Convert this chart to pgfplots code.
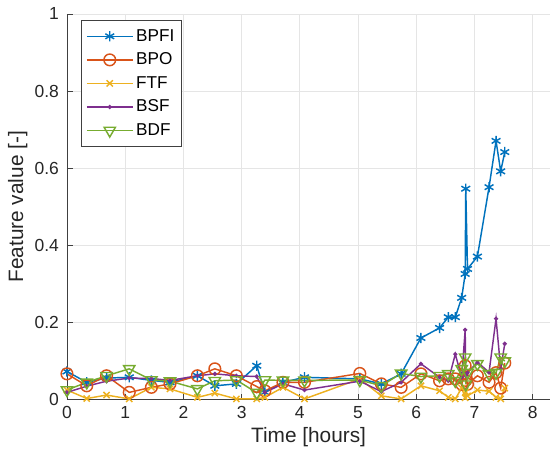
\documentclass[border=0pt]{standalone}
\usepackage{fontspec}
\setmainfont{Liberation Sans}
\usepackage{pgfplots}
\pgfplotsset{compat=1.18}
\usepackage{pgfplotstable}

\definecolor{mblue}{rgb}{0,0.447,0.741}
\definecolor{morange}{rgb}{0.85,0.325,0.098}
\definecolor{myellow}{rgb}{0.929,0.694,0.125}
\definecolor{mpurple}{rgb}{0.494,0.184,0.556}
\definecolor{mgreen}{rgb}{0.466,0.674,0.188}

% columns: time, BPFI, BPO, FTF, BSF, BDF
\pgfplotstableread{
t    bpfi   bpo    ftf    bsf    bdf
0.00 0.073  0.067  0.025  0.019  0.025
0.34 0.045  0.036  0.003  0.035  0.045
0.68 0.056  0.062  0.012  0.048  0.062
1.07 0.058  0.019  0.002  0.056  0.080
1.45 0.050  0.032  0.032  0.055  0.051
1.77 0.045  0.041  0.028  0.050  0.048
2.24 0.062  0.062  0.006  0.062  0.028
2.54 0.036  0.080  0.017  0.067  0.049
2.91 0.041  0.062  0.002  0.062  0.051
3.26 0.088  0.034  0.002  0.060  0.018
3.40 0.019  0.023  0.006  0.019  0.051
3.71 0.045  0.045  0.032  0.041  0.050
4.08 0.058  0.045  0.002  0.025  0.050
5.03 0.054  0.068  0.054  0.048  0.051
5.40 0.041  0.041  0.010  0.021  0.036
5.74 0.067  0.032  0.002  0.045  0.068
6.08 0.160  0.067  0.036  0.093  0.060
6.40 0.186  0.049  0.023  0.058  0.062
6.55 0.214  0.054  0.006  0.049  0.067
6.67 0.214  0.054  0.002  0.118  0.049
6.78 0.264  0.040  0.030  0.058  0.080
6.84 0.326  0.088  0.005  0.181  0.110
6.85 0.547  0.050  0.020  0.062  0.040
6.88 0.339  0.040  0.010  0.070  0.070
7.05 0.371  0.062  0.025  0.097  0.093
7.25 0.551  0.045  0.022  0.071  0.067
7.37 0.671  0.070  0.006  0.210  0.070
7.45 0.592  0.030  0.002  0.080  0.110
7.52 0.642  0.095  0.030  0.145  0.100
}\feat

\begin{document}
\begin{tikzpicture}
\begin{axis}[
    name=ax,
    scale only axis,
    width=332pt, height=265pt,
    xmin=0, xmax=8.3, ymin=0, ymax=1,
    xtick={0,1,...,8},
    ytick={0,0.2,0.4,0.6,0.8,1},
    yticklabels={0,0.2,0.4,0.6,0.8,1},
    axis x line*=bottom, axis y line*=left,
    tick align=inside,
    major tick length=4pt,
    grid=major,
    major grid style={gray!20, line width=0.6pt},
    axis line style={black!75, line width=0.6pt},
    tick style={black!75, line width=0.6pt},
    ticklabel style={font=\fontsize{12}{14}\selectfont, text=black!85},
    yticklabel style={xshift=-2pt},
    xticklabel style={yshift=-1pt},
    /pgf/number format/assume math mode=true,
    xlabel={Time [hours]},
    ylabel={Feature value [-]},
    label style={font=\fontsize{14.3}{17}\selectfont, text=black!85},
    xlabel style={yshift=1pt},
    ylabel style={yshift=-2pt},
    legend style={at={(0.03,0.984)}, anchor=north west,
        font=\fontsize{11.8}{14}\selectfont, draw=black!75, line width=0.6pt,
        row sep=2.5pt, inner xsep=3pt, inner ysep=4pt},
    legend cell align=left,
    legend image code/.code={
        \draw[mark repeat=2, mark phase=2] plot coordinates {(0cm,0cm) (0.55cm,0cm) (1.1cm,0cm)};
    },
]
\addplot[color=mblue, line width=1pt, mark=asterisk, mark size=3.5pt] table[x=t, y=bpfi] {\feat};
\addlegendentry{BPFI}
\addplot[color=morange, line width=1pt, mark=o, mark size=4pt] table[x=t, y=bpo] {\feat};
\addlegendentry{BPO}
\addplot[color=myellow, line width=1pt, mark=x, mark size=3pt] table[x=t, y=ftf] {\feat};
\addlegendentry{FTF}
\addplot[color=mpurple, line width=1pt, mark=*, mark size=0.9pt] table[x=t, y=bsf] {\feat};
\addlegendentry{BSF}
\addplot[color=mgreen, line width=1pt, mark=triangle, mark size=4.5pt, mark options={rotate=180}] table[x=t, y=bdf] {\feat};
\addlegendentry{BDF}
\end{axis}
\path (ax.north east) ++(4pt,9.6pt);
\path (ax.south west) ++(-46pt,-39pt);
\end{tikzpicture}
\end{document}
